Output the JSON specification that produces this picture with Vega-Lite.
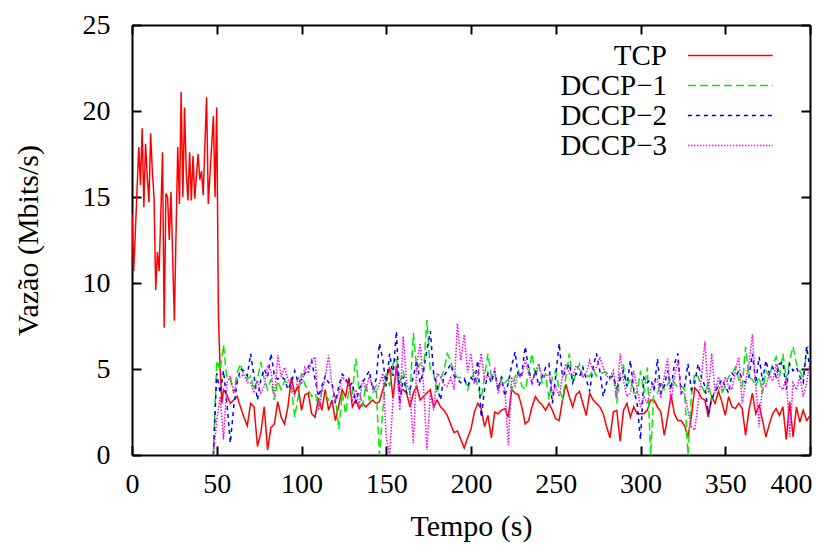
{
"$schema": "https://vega.github.io/schema/vega-lite/v6.json",
"width": 678, "height": 430,
"autosize": {"type": "none"},
"padding": {"left": 132, "top": 25, "right": 29, "bottom": 91},
"background": "white",
"config": {
 "view": {"stroke": null},
 "font": "Liberation Serif",
 "axis": {"labelFont": "Liberation Serif", "titleFont": "Liberation Serif", "labelFontSize": 28, "titleFontSize": 30, "titleFontWeight": "normal", "labelColor": "black", "titleColor": "black", "domainColor": "black", "domainWidth": 2, "tickColor": "black", "tickWidth": 2, "tickSize": -9, "grid": false, "labelFlush": false, "labelOverlap": false},
 "legend": {"title": null, "symbolType": "M-1,0H7", "symbolSize": 450, "symbolStrokeWidth": 1.5, "labelFont": "Liberation Serif", "labelFontSize": 29, "labelColor": "black", "labelAlign": "right", "labelOffset": -46, "rowPadding": 0, "padding": 0}
},
"data": {"values": [
{"s":"TCP","t":0,"v":14.0},{"s":"TCP","t":1,"v":10.7},{"s":"TCP","t":2,"v":13.0},{"s":"TCP","t":3,"v":15.5},{"s":"TCP","t":4,"v":17.9},{"s":"TCP","t":5,"v":15.7},{"s":"TCP","t":6,"v":19.0},{"s":"TCP","t":7,"v":14.4},{"s":"TCP","t":8,"v":18.1},{"s":"TCP","t":9,"v":16.2},{"s":"TCP","t":10,"v":14.7},{"s":"TCP","t":11,"v":18.7},{"s":"TCP","t":12,"v":16.5},{"s":"TCP","t":13,"v":15.0},{"s":"TCP","t":14,"v":9.6},{"s":"TCP","t":15,"v":11.8},{"s":"TCP","t":16,"v":10.7},{"s":"TCP","t":17,"v":14.0},{"s":"TCP","t":18,"v":17.6},{"s":"TCP","t":19,"v":7.4},{"s":"TCP","t":20,"v":15.2},{"s":"TCP","t":21,"v":15.0},{"s":"TCP","t":22,"v":12.5},{"s":"TCP","t":23,"v":15.3},{"s":"TCP","t":24,"v":11.5},{"s":"TCP","t":25,"v":7.8},{"s":"TCP","t":26,"v":13.0},{"s":"TCP","t":27,"v":17.9},{"s":"TCP","t":28,"v":14.6},{"s":"TCP","t":29,"v":21.1},{"s":"TCP","t":30,"v":15.0},{"s":"TCP","t":31,"v":20.2},{"s":"TCP","t":32,"v":16.5},{"s":"TCP","t":33,"v":14.8},{"s":"TCP","t":34,"v":17.6},{"s":"TCP","t":35,"v":14.8},{"s":"TCP","t":36,"v":17.4},{"s":"TCP","t":37,"v":14.9},{"s":"TCP","t":38,"v":16.2},{"s":"TCP","t":39,"v":17.5},{"s":"TCP","t":40,"v":16.0},{"s":"TCP","t":41,"v":16.5},{"s":"TCP","t":42,"v":15.1},{"s":"TCP","t":43,"v":18.0},{"s":"TCP","t":44,"v":20.8},{"s":"TCP","t":45,"v":14.6},{"s":"TCP","t":46,"v":16.3},{"s":"TCP","t":47,"v":18.0},{"s":"TCP","t":48,"v":19.7},{"s":"TCP","t":49,"v":15.0},{"s":"TCP","t":50,"v":20.2},{"s":"TCP","t":51,"v":8.0},{"s":"TCP","t":52,"v":5.0},{"s":"TCP","t":53,"v":3.0},
{"s":"TCP","t":54,"v":3.8},{"s":"TCP","t":56,"v":3.5},{"s":"TCP","t":58,"v":3.0},{"s":"TCP","t":60,"v":3.2},{"s":"TCP","t":62,"v":3.4},{"s":"TCP","t":64,"v":2.8},{"s":"TCP","t":66,"v":2.2},{"s":"TCP","t":68,"v":1.7},{"s":"TCP","t":70,"v":3.0},{"s":"TCP","t":72,"v":2.8},{"s":"TCP","t":74,"v":0.5},{"s":"TCP","t":76,"v":1.3},{"s":"TCP","t":78,"v":2.8},{"s":"TCP","t":80,"v":0.3},{"s":"TCP","t":82,"v":1.6},{"s":"TCP","t":84,"v":1.8},{"s":"TCP","t":86,"v":3.1},{"s":"TCP","t":88,"v":2.2},{"s":"TCP","t":90,"v":1.8},{"s":"TCP","t":92,"v":2.8},{"s":"TCP","t":94,"v":4.5},{"s":"TCP","t":96,"v":3.6},{"s":"TCP","t":98,"v":4.0},{"s":"TCP","t":100,"v":2.6},{"s":"TCP","t":102,"v":3.5},{"s":"TCP","t":104,"v":3.6},{"s":"TCP","t":106,"v":2.4},{"s":"TCP","t":108,"v":2.2},{"s":"TCP","t":110,"v":3.3},{"s":"TCP","t":112,"v":2.6},{"s":"TCP","t":114,"v":3.8},{"s":"TCP","t":116,"v":2.6},{"s":"TCP","t":118,"v":3.2},{"s":"TCP","t":120,"v":2.0},{"s":"TCP","t":122,"v":2.9},{"s":"TCP","t":124,"v":3.8},{"s":"TCP","t":126,"v":3.4},{"s":"TCP","t":128,"v":4.5},{"s":"TCP","t":130,"v":2.8},{"s":"TCP","t":132,"v":3.2},{"s":"TCP","t":134,"v":2.7},{"s":"TCP","t":136,"v":3.0},{"s":"TCP","t":138,"v":2.8},{"s":"TCP","t":140,"v":3.0},{"s":"TCP","t":142,"v":3.2},{"s":"TCP","t":144,"v":3.0},{"s":"TCP","t":146,"v":3.1},{"s":"TCP","t":148,"v":3.8},{"s":"TCP","t":150,"v":4.4},{"s":"TCP","t":152,"v":5.1},{"s":"TCP","t":154,"v":3.3},{"s":"TCP","t":156,"v":5.2},{"s":"TCP","t":158,"v":3.7},{"s":"TCP","t":160,"v":3.8},{"s":"TCP","t":162,"v":3.6},{"s":"TCP","t":164,"v":2.8},
{"s":"TCP","t":166,"v":3.6},{"s":"TCP","t":168,"v":4.0},{"s":"TCP","t":170,"v":3.2},{"s":"TCP","t":172,"v":3.4},{"s":"TCP","t":174,"v":3.6},{"s":"TCP","t":176,"v":3.8},{"s":"TCP","t":178,"v":2.8},{"s":"TCP","t":180,"v":3.2},{"s":"TCP","t":182,"v":2.8},{"s":"TCP","t":184,"v":2.6},{"s":"TCP","t":186,"v":2.3},{"s":"TCP","t":188,"v":1.8},{"s":"TCP","t":190,"v":1.3},{"s":"TCP","t":192,"v":1.4},{"s":"TCP","t":194,"v":0.9},{"s":"TCP","t":196,"v":0.4},{"s":"TCP","t":198,"v":1.0},{"s":"TCP","t":200,"v":1.5},{"s":"TCP","t":202,"v":2.5},{"s":"TCP","t":204,"v":3.0},{"s":"TCP","t":206,"v":2.7},{"s":"TCP","t":208,"v":1.65},{"s":"TCP","t":210,"v":2.3},{"s":"TCP","t":212,"v":1.0},{"s":"TCP","t":214,"v":2.5},{"s":"TCP","t":216,"v":2.4},{"s":"TCP","t":218,"v":2.6},{"s":"TCP","t":220,"v":2.7},{"s":"TCP","t":222,"v":2.2},{"s":"TCP","t":224,"v":3.8},{"s":"TCP","t":226,"v":3.6},{"s":"TCP","t":228,"v":3.5},{"s":"TCP","t":230,"v":2.8},{"s":"TCP","t":232,"v":1.8},{"s":"TCP","t":234,"v":2.0},{"s":"TCP","t":236,"v":2.8},{"s":"TCP","t":238,"v":3.4},{"s":"TCP","t":240,"v":3.1},{"s":"TCP","t":242,"v":2.9},{"s":"TCP","t":244,"v":2.6},{"s":"TCP","t":246,"v":3.0},{"s":"TCP","t":248,"v":2.6},{"s":"TCP","t":250,"v":2.1},{"s":"TCP","t":252,"v":2.0},{"s":"TCP","t":254,"v":3.2},{"s":"TCP","t":256,"v":4.1},{"s":"TCP","t":258,"v":3.4},{"s":"TCP","t":260,"v":2.8},{"s":"TCP","t":262,"v":3.5},{"s":"TCP","t":264,"v":3.7},{"s":"TCP","t":266,"v":3.0},{"s":"TCP","t":268,"v":2.3},{"s":"TCP","t":270,"v":3.6},{"s":"TCP","t":272,"v":3.2},{"s":"TCP","t":274,"v":3.0},{"s":"TCP","t":276,"v":2.8},{"s":"TCP","t":278,"v":2.4},{"s":"TCP","t":280,"v":1.65},{"s":"TCP","t":282,"v":1.0},
{"s":"TCP","t":284,"v":2.5},{"s":"TCP","t":286,"v":2.6},{"s":"TCP","t":288,"v":0.8},{"s":"TCP","t":290,"v":2.6},{"s":"TCP","t":292,"v":3.0},{"s":"TCP","t":294,"v":2.2},{"s":"TCP","t":296,"v":2.8},{"s":"TCP","t":298,"v":2.4},{"s":"TCP","t":300,"v":2.4},{"s":"TCP","t":302,"v":2.4},{"s":"TCP","t":304,"v":2.6},{"s":"TCP","t":306,"v":3.2},{"s":"TCP","t":308,"v":3.2},{"s":"TCP","t":310,"v":2.8},{"s":"TCP","t":312,"v":2.5},{"s":"TCP","t":314,"v":1.15},{"s":"TCP","t":316,"v":2.2},{"s":"TCP","t":318,"v":3.5},{"s":"TCP","t":320,"v":2.4},{"s":"TCP","t":322,"v":2.0},{"s":"TCP","t":324,"v":2.0},{"s":"TCP","t":326,"v":1.7},{"s":"TCP","t":328,"v":1.05},{"s":"TCP","t":330,"v":2.2},{"s":"TCP","t":332,"v":3.9},{"s":"TCP","t":334,"v":3.7},{"s":"TCP","t":336,"v":3.3},{"s":"TCP","t":338,"v":3.2},{"s":"TCP","t":340,"v":2.2},{"s":"TCP","t":342,"v":3.4},{"s":"TCP","t":344,"v":3.0},{"s":"TCP","t":346,"v":3.7},{"s":"TCP","t":348,"v":3.1},{"s":"TCP","t":350,"v":2.3},{"s":"TCP","t":352,"v":3.4},{"s":"TCP","t":354,"v":2.8},{"s":"TCP","t":356,"v":2.7},{"s":"TCP","t":358,"v":3.0},{"s":"TCP","t":360,"v":2.7},{"s":"TCP","t":362,"v":1.15},{"s":"TCP","t":364,"v":2.6},{"s":"TCP","t":366,"v":3.6},{"s":"TCP","t":368,"v":2.4},{"s":"TCP","t":370,"v":2.9},{"s":"TCP","t":372,"v":2.0},{"s":"TCP","t":374,"v":1.05},{"s":"TCP","t":376,"v":1.8},{"s":"TCP","t":378,"v":2.4},{"s":"TCP","t":380,"v":2.7},{"s":"TCP","t":382,"v":2.3},{"s":"TCP","t":384,"v":2.8},{"s":"TCP","t":386,"v":0.9},{"s":"TCP","t":388,"v":3.1},{"s":"TCP","t":390,"v":1.05},{"s":"TCP","t":392,"v":2.8},{"s":"TCP","t":394,"v":1.9},{"s":"TCP","t":396,"v":2.6},{"s":"TCP","t":398,"v":2.0},{"s":"TCP","t":400,"v":2.3},
{"s":"DCCP−1","t":48,"v":0},{"s":"DCCP−1","t":50,"v":5.5},{"s":"DCCP−1","t":52,"v":4.9},{"s":"DCCP−1","t":54,"v":6.4},{"s":"DCCP−1","t":56,"v":4.4},{"s":"DCCP−1","t":58,"v":4.4},{"s":"DCCP−1","t":60,"v":3.6},{"s":"DCCP−1","t":62,"v":4.75},{"s":"DCCP−1","t":64,"v":5.3},{"s":"DCCP−1","t":66,"v":4.6},{"s":"DCCP−1","t":68,"v":4.4},{"s":"DCCP−1","t":70,"v":4.6},{"s":"DCCP−1","t":72,"v":3.8},{"s":"DCCP−1","t":74,"v":4.4},{"s":"DCCP−1","t":76,"v":5.4},{"s":"DCCP−1","t":78,"v":4.4},{"s":"DCCP−1","t":80,"v":3.8},{"s":"DCCP−1","t":82,"v":4.4},{"s":"DCCP−1","t":84,"v":3.2},{"s":"DCCP−1","t":86,"v":4.3},{"s":"DCCP−1","t":88,"v":3.8},{"s":"DCCP−1","t":90,"v":4.3},{"s":"DCCP−1","t":92,"v":4.2},{"s":"DCCP−1","t":94,"v":4.0},{"s":"DCCP−1","t":96,"v":2.2},{"s":"DCCP−1","t":98,"v":3.4},{"s":"DCCP−1","t":100,"v":4.75},{"s":"DCCP−1","t":102,"v":4.1},{"s":"DCCP−1","t":104,"v":3.8},{"s":"DCCP−1","t":106,"v":3.4},{"s":"DCCP−1","t":108,"v":3.6},{"s":"DCCP−1","t":110,"v":2.8},{"s":"DCCP−1","t":112,"v":3.8},{"s":"DCCP−1","t":114,"v":3.6},{"s":"DCCP−1","t":116,"v":3.2},{"s":"DCCP−1","t":118,"v":3.4},{"s":"DCCP−1","t":120,"v":3.4},{"s":"DCCP−1","t":122,"v":1.5},{"s":"DCCP−1","t":124,"v":3.6},{"s":"DCCP−1","t":126,"v":2.4},{"s":"DCCP−1","t":128,"v":3.8},{"s":"DCCP−1","t":130,"v":3.6},{"s":"DCCP−1","t":132,"v":5.6},{"s":"DCCP−1","t":134,"v":3.8},{"s":"DCCP−1","t":136,"v":2.8},{"s":"DCCP−1","t":138,"v":4.1},{"s":"DCCP−1","t":140,"v":3.2},{"s":"DCCP−1","t":142,"v":3.6},{"s":"DCCP−1","t":144,"v":4.0},{"s":"DCCP−1","t":146,"v":0},{"s":"DCCP−1","t":148,"v":2.6},{"s":"DCCP−1","t":150,"v":4.75},{"s":"DCCP−1","t":152,"v":4.0},{"s":"DCCP−1","t":154,"v":5.3},{"s":"DCCP−1","t":156,"v":5.7},{"s":"DCCP−1","t":158,"v":4.2},{"s":"DCCP−1","t":160,"v":4.9},{"s":"DCCP−1","t":162,"v":3.8},{"s":"DCCP−1","t":164,"v":3.6},
{"s":"DCCP−1","t":166,"v":7.1},{"s":"DCCP−1","t":168,"v":5.0},{"s":"DCCP−1","t":170,"v":5.3},{"s":"DCCP−1","t":172,"v":4.9},{"s":"DCCP−1","t":174,"v":7.85},{"s":"DCCP−1","t":176,"v":4.9},{"s":"DCCP−1","t":178,"v":4.75},{"s":"DCCP−1","t":180,"v":3.6},{"s":"DCCP−1","t":182,"v":4.4},{"s":"DCCP−1","t":184,"v":4.9},{"s":"DCCP−1","t":186,"v":5.9},{"s":"DCCP−1","t":188,"v":5.5},{"s":"DCCP−1","t":190,"v":4.75},{"s":"DCCP−1","t":192,"v":4.5},{"s":"DCCP−1","t":194,"v":4.5},{"s":"DCCP−1","t":196,"v":4.55},{"s":"DCCP−1","t":198,"v":3.8},{"s":"DCCP−1","t":200,"v":4.4},{"s":"DCCP−1","t":202,"v":4.8},{"s":"DCCP−1","t":204,"v":4.0},{"s":"DCCP−1","t":206,"v":3.3},{"s":"DCCP−1","t":208,"v":4.6},{"s":"DCCP−1","t":210,"v":5.9},{"s":"DCCP−1","t":212,"v":4.55},{"s":"DCCP−1","t":214,"v":4.75},{"s":"DCCP−1","t":216,"v":3.8},{"s":"DCCP−1","t":218,"v":4.55},{"s":"DCCP−1","t":220,"v":4.2},{"s":"DCCP−1","t":222,"v":4.4},{"s":"DCCP−1","t":224,"v":3.8},{"s":"DCCP−1","t":226,"v":4.55},{"s":"DCCP−1","t":228,"v":4.9},{"s":"DCCP−1","t":230,"v":4.0},{"s":"DCCP−1","t":232,"v":3.8},{"s":"DCCP−1","t":234,"v":4.75},{"s":"DCCP−1","t":236,"v":5.9},{"s":"DCCP−1","t":238,"v":4.5},{"s":"DCCP−1","t":240,"v":5.3},{"s":"DCCP−1","t":242,"v":4.2},{"s":"DCCP−1","t":244,"v":4.75},{"s":"DCCP−1","t":246,"v":3.2},{"s":"DCCP−1","t":248,"v":4.55},{"s":"DCCP−1","t":250,"v":4.9},{"s":"DCCP−1","t":252,"v":3.8},{"s":"DCCP−1","t":254,"v":3.3},{"s":"DCCP−1","t":256,"v":4.55},{"s":"DCCP−1","t":258,"v":5.9},{"s":"DCCP−1","t":260,"v":4.2},{"s":"DCCP−1","t":262,"v":4.75},{"s":"DCCP−1","t":264,"v":5.3},{"s":"DCCP−1","t":266,"v":4.5},{"s":"DCCP−1","t":268,"v":4.6},{"s":"DCCP−1","t":270,"v":4.6},{"s":"DCCP−1","t":272,"v":5.0},{"s":"DCCP−1","t":274,"v":4.6},{"s":"DCCP−1","t":276,"v":4.7},{"s":"DCCP−1","t":278,"v":4.8},{"s":"DCCP−1","t":280,"v":4.8},{"s":"DCCP−1","t":282,"v":4.4},
{"s":"DCCP−1","t":284,"v":4.7},{"s":"DCCP−1","t":286,"v":3.0},{"s":"DCCP−1","t":288,"v":4.8},{"s":"DCCP−1","t":290,"v":5.2},{"s":"DCCP−1","t":292,"v":4.0},{"s":"DCCP−1","t":294,"v":4.5},{"s":"DCCP−1","t":296,"v":3.6},{"s":"DCCP−1","t":298,"v":3.6},{"s":"DCCP−1","t":300,"v":4.9},{"s":"DCCP−1","t":302,"v":3.6},{"s":"DCCP−1","t":304,"v":5.1},{"s":"DCCP−1","t":306,"v":0},{"s":"DCCP−1","t":308,"v":4.0},{"s":"DCCP−1","t":310,"v":3.6},{"s":"DCCP−1","t":312,"v":4.2},{"s":"DCCP−1","t":314,"v":3.8},{"s":"DCCP−1","t":316,"v":4.1},{"s":"DCCP−1","t":318,"v":4.5},{"s":"DCCP−1","t":320,"v":4.2},{"s":"DCCP−1","t":322,"v":3.9},{"s":"DCCP−1","t":324,"v":4.0},{"s":"DCCP−1","t":326,"v":3.8},{"s":"DCCP−1","t":328,"v":0},{"s":"DCCP−1","t":330,"v":3.4},{"s":"DCCP−1","t":332,"v":4.75},{"s":"DCCP−1","t":334,"v":4.55},{"s":"DCCP−1","t":336,"v":4.0},{"s":"DCCP−1","t":338,"v":3.6},{"s":"DCCP−1","t":340,"v":4.2},{"s":"DCCP−1","t":342,"v":3.2},{"s":"DCCP−1","t":344,"v":3.8},{"s":"DCCP−1","t":346,"v":4.0},{"s":"DCCP−1","t":348,"v":3.6},{"s":"DCCP−1","t":350,"v":4.0},{"s":"DCCP−1","t":352,"v":4.55},{"s":"DCCP−1","t":354,"v":4.75},{"s":"DCCP−1","t":356,"v":5.1},{"s":"DCCP−1","t":358,"v":4.4},{"s":"DCCP−1","t":360,"v":4.0},{"s":"DCCP−1","t":362,"v":6.3},{"s":"DCCP−1","t":364,"v":4.55},{"s":"DCCP−1","t":366,"v":4.4},{"s":"DCCP−1","t":368,"v":4.0},{"s":"DCCP−1","t":370,"v":4.55},{"s":"DCCP−1","t":372,"v":3.6},{"s":"DCCP−1","t":374,"v":4.9},{"s":"DCCP−1","t":376,"v":4.55},{"s":"DCCP−1","t":378,"v":5.3},{"s":"DCCP−1","t":380,"v":5.7},{"s":"DCCP−1","t":382,"v":4.55},{"s":"DCCP−1","t":384,"v":5.9},{"s":"DCCP−1","t":386,"v":4.4},{"s":"DCCP−1","t":388,"v":5.5},{"s":"DCCP−1","t":390,"v":6.3},{"s":"DCCP−1","t":392,"v":5.3},{"s":"DCCP−1","t":394,"v":4.9},{"s":"DCCP−1","t":396,"v":4.4},{"s":"DCCP−1","t":398,"v":6.1},{"s":"DCCP−1","t":400,"v":6.6},
{"s":"DCCP−2","t":48,"v":0},{"s":"DCCP−2","t":50,"v":4.75},{"s":"DCCP−2","t":52,"v":3.6},{"s":"DCCP−2","t":54,"v":4.9},{"s":"DCCP−2","t":56,"v":3.0},{"s":"DCCP−2","t":58,"v":0.7},{"s":"DCCP−2","t":60,"v":2.8},{"s":"DCCP−2","t":62,"v":4.2},{"s":"DCCP−2","t":64,"v":5.0},{"s":"DCCP−2","t":66,"v":4.9},{"s":"DCCP−2","t":68,"v":4.6},{"s":"DCCP−2","t":70,"v":5.9},{"s":"DCCP−2","t":72,"v":4.6},{"s":"DCCP−2","t":74,"v":3.2},{"s":"DCCP−2","t":76,"v":4.4},{"s":"DCCP−2","t":78,"v":5.0},{"s":"DCCP−2","t":80,"v":4.55},{"s":"DCCP−2","t":82,"v":5.9},{"s":"DCCP−2","t":84,"v":4.6},{"s":"DCCP−2","t":86,"v":4.4},{"s":"DCCP−2","t":88,"v":4.55},{"s":"DCCP−2","t":90,"v":4.4},{"s":"DCCP−2","t":92,"v":3.8},{"s":"DCCP−2","t":94,"v":4.2},{"s":"DCCP−2","t":96,"v":4.9},{"s":"DCCP−2","t":98,"v":4.2},{"s":"DCCP−2","t":100,"v":4.4},{"s":"DCCP−2","t":102,"v":4.75},{"s":"DCCP−2","t":104,"v":5.1},{"s":"DCCP−2","t":106,"v":5.5},{"s":"DCCP−2","t":108,"v":4.4},{"s":"DCCP−2","t":110,"v":3.4},{"s":"DCCP−2","t":112,"v":4.0},{"s":"DCCP−2","t":114,"v":4.6},{"s":"DCCP−2","t":116,"v":4.2},{"s":"DCCP−2","t":118,"v":4.2},{"s":"DCCP−2","t":120,"v":3.0},{"s":"DCCP−2","t":122,"v":4.0},{"s":"DCCP−2","t":124,"v":4.7},{"s":"DCCP−2","t":126,"v":4.5},{"s":"DCCP−2","t":128,"v":4.0},{"s":"DCCP−2","t":130,"v":4.2},{"s":"DCCP−2","t":132,"v":3.0},{"s":"DCCP−2","t":134,"v":3.8},{"s":"DCCP−2","t":136,"v":4.2},{"s":"DCCP−2","t":138,"v":4.55},{"s":"DCCP−2","t":140,"v":4.9},{"s":"DCCP−2","t":142,"v":3.8},{"s":"DCCP−2","t":144,"v":4.4},{"s":"DCCP−2","t":146,"v":6.5},{"s":"DCCP−2","t":148,"v":5.5},{"s":"DCCP−2","t":150,"v":4.0},{"s":"DCCP−2","t":152,"v":5.9},{"s":"DCCP−2","t":154,"v":4.6},{"s":"DCCP−2","t":156,"v":7.2},{"s":"DCCP−2","t":158,"v":3.0},{"s":"DCCP−2","t":160,"v":4.55},{"s":"DCCP−2","t":162,"v":3.6},{"s":"DCCP−2","t":164,"v":3.8},
{"s":"DCCP−2","t":166,"v":4.55},{"s":"DCCP−2","t":168,"v":5.5},{"s":"DCCP−2","t":170,"v":4.2},{"s":"DCCP−2","t":172,"v":4.9},{"s":"DCCP−2","t":174,"v":6.1},{"s":"DCCP−2","t":176,"v":7.2},{"s":"DCCP−2","t":178,"v":4.7},{"s":"DCCP−2","t":180,"v":4.0},{"s":"DCCP−2","t":182,"v":3.2},{"s":"DCCP−2","t":184,"v":4.6},{"s":"DCCP−2","t":186,"v":4.9},{"s":"DCCP−2","t":188,"v":5.3},{"s":"DCCP−2","t":190,"v":4.6},{"s":"DCCP−2","t":192,"v":4.4},{"s":"DCCP−2","t":194,"v":4.2},{"s":"DCCP−2","t":196,"v":4.4},{"s":"DCCP−2","t":198,"v":4.0},{"s":"DCCP−2","t":200,"v":4.5},{"s":"DCCP−2","t":202,"v":4.2},{"s":"DCCP−2","t":204,"v":5.5},{"s":"DCCP−2","t":206,"v":2.2},{"s":"DCCP−2","t":208,"v":3.8},{"s":"DCCP−2","t":210,"v":4.75},{"s":"DCCP−2","t":212,"v":4.2},{"s":"DCCP−2","t":214,"v":4.9},{"s":"DCCP−2","t":216,"v":3.8},{"s":"DCCP−2","t":218,"v":4.55},{"s":"DCCP−2","t":220,"v":3.4},{"s":"DCCP−2","t":222,"v":4.2},{"s":"DCCP−2","t":224,"v":5.2},{"s":"DCCP−2","t":226,"v":6.0},{"s":"DCCP−2","t":228,"v":4.5},{"s":"DCCP−2","t":230,"v":4.75},{"s":"DCCP−2","t":232,"v":6.3},{"s":"DCCP−2","t":234,"v":5.0},{"s":"DCCP−2","t":236,"v":4.2},{"s":"DCCP−2","t":238,"v":4.9},{"s":"DCCP−2","t":240,"v":4.0},{"s":"DCCP−2","t":242,"v":4.55},{"s":"DCCP−2","t":244,"v":5.1},{"s":"DCCP−2","t":246,"v":5.3},{"s":"DCCP−2","t":248,"v":3.0},{"s":"DCCP−2","t":250,"v":4.6},{"s":"DCCP−2","t":252,"v":6.5},{"s":"DCCP−2","t":254,"v":4.55},{"s":"DCCP−2","t":256,"v":4.9},{"s":"DCCP−2","t":258,"v":5.3},{"s":"DCCP−2","t":260,"v":4.2},{"s":"DCCP−2","t":262,"v":4.75},{"s":"DCCP−2","t":264,"v":4.55},{"s":"DCCP−2","t":266,"v":5.1},{"s":"DCCP−2","t":268,"v":4.4},{"s":"DCCP−2","t":270,"v":3.7},{"s":"DCCP−2","t":272,"v":5.1},{"s":"DCCP−2","t":274,"v":5.9},{"s":"DCCP−2","t":276,"v":4.9},{"s":"DCCP−2","t":278,"v":3.4},{"s":"DCCP−2","t":280,"v":4.2},{"s":"DCCP−2","t":282,"v":4.55},
{"s":"DCCP−2","t":284,"v":4.55},{"s":"DCCP−2","t":286,"v":3.9},{"s":"DCCP−2","t":288,"v":4.4},{"s":"DCCP−2","t":290,"v":4.9},{"s":"DCCP−2","t":292,"v":4.0},{"s":"DCCP−2","t":294,"v":5.5},{"s":"DCCP−2","t":296,"v":3.8},{"s":"DCCP−2","t":298,"v":3.0},{"s":"DCCP−2","t":300,"v":0.9},{"s":"DCCP−2","t":302,"v":4.5},{"s":"DCCP−2","t":304,"v":4.2},{"s":"DCCP−2","t":306,"v":4.4},{"s":"DCCP−2","t":308,"v":3.8},{"s":"DCCP−2","t":310,"v":5.6},{"s":"DCCP−2","t":312,"v":3.6},{"s":"DCCP−2","t":314,"v":4.0},{"s":"DCCP−2","t":316,"v":4.9},{"s":"DCCP−2","t":318,"v":3.8},{"s":"DCCP−2","t":320,"v":5.3},{"s":"DCCP−2","t":322,"v":5.9},{"s":"DCCP−2","t":324,"v":3.6},{"s":"DCCP−2","t":326,"v":4.0},{"s":"DCCP−2","t":328,"v":5.3},{"s":"DCCP−2","t":330,"v":3.8},{"s":"DCCP−2","t":332,"v":4.2},{"s":"DCCP−2","t":334,"v":5.3},{"s":"DCCP−2","t":336,"v":4.5},{"s":"DCCP−2","t":338,"v":4.0},{"s":"DCCP−2","t":340,"v":2.4},{"s":"DCCP−2","t":342,"v":3.2},{"s":"DCCP−2","t":344,"v":3.7},{"s":"DCCP−2","t":346,"v":4.0},{"s":"DCCP−2","t":348,"v":4.4},{"s":"DCCP−2","t":350,"v":4.0},{"s":"DCCP−2","t":352,"v":3.6},{"s":"DCCP−2","t":354,"v":4.75},{"s":"DCCP−2","t":356,"v":4.55},{"s":"DCCP−2","t":358,"v":4.9},{"s":"DCCP−2","t":360,"v":4.4},{"s":"DCCP−2","t":362,"v":4.2},{"s":"DCCP−2","t":364,"v":4.55},{"s":"DCCP−2","t":366,"v":5.9},{"s":"DCCP−2","t":368,"v":4.2},{"s":"DCCP−2","t":370,"v":5.7},{"s":"DCCP−2","t":372,"v":4.3},{"s":"DCCP−2","t":374,"v":5.5},{"s":"DCCP−2","t":376,"v":4.75},{"s":"DCCP−2","t":378,"v":5.1},{"s":"DCCP−2","t":380,"v":4.55},{"s":"DCCP−2","t":382,"v":5.3},{"s":"DCCP−2","t":384,"v":5.4},{"s":"DCCP−2","t":386,"v":3.8},{"s":"DCCP−2","t":388,"v":5.3},{"s":"DCCP−2","t":390,"v":4.9},{"s":"DCCP−2","t":392,"v":5.1},{"s":"DCCP−2","t":394,"v":4.55},{"s":"DCCP−2","t":396,"v":4.2},{"s":"DCCP−2","t":398,"v":6.3},{"s":"DCCP−2","t":400,"v":5.0},
{"s":"DCCP−3","t":48,"v":0},{"s":"DCCP−3","t":50,"v":2.0},{"s":"DCCP−3","t":52,"v":3.4},{"s":"DCCP−3","t":54,"v":0.9},{"s":"DCCP−3","t":56,"v":4.2},{"s":"DCCP−3","t":58,"v":4.6},{"s":"DCCP−3","t":60,"v":3.6},{"s":"DCCP−3","t":62,"v":4.4},{"s":"DCCP−3","t":64,"v":4.55},{"s":"DCCP−3","t":66,"v":4.7},{"s":"DCCP−3","t":68,"v":4.2},{"s":"DCCP−3","t":70,"v":4.2},{"s":"DCCP−3","t":72,"v":3.6},{"s":"DCCP−3","t":74,"v":4.3},{"s":"DCCP−3","t":76,"v":3.6},{"s":"DCCP−3","t":78,"v":4.0},{"s":"DCCP−3","t":80,"v":5.2},{"s":"DCCP−3","t":82,"v":4.9},{"s":"DCCP−3","t":84,"v":3.4},{"s":"DCCP−3","t":86,"v":5.8},{"s":"DCCP−3","t":88,"v":4.55},{"s":"DCCP−3","t":90,"v":5.1},{"s":"DCCP−3","t":92,"v":4.4},{"s":"DCCP−3","t":94,"v":4.0},{"s":"DCCP−3","t":96,"v":3.4},{"s":"DCCP−3","t":98,"v":4.55},{"s":"DCCP−3","t":100,"v":4.1},{"s":"DCCP−3","t":102,"v":5.1},{"s":"DCCP−3","t":104,"v":4.75},{"s":"DCCP−3","t":106,"v":5.5},{"s":"DCCP−3","t":108,"v":5.7},{"s":"DCCP−3","t":110,"v":2.6},{"s":"DCCP−3","t":112,"v":3.6},{"s":"DCCP−3","t":114,"v":4.55},{"s":"DCCP−3","t":116,"v":5.8},{"s":"DCCP−3","t":118,"v":4.0},{"s":"DCCP−3","t":120,"v":3.2},{"s":"DCCP−3","t":122,"v":3.6},{"s":"DCCP−3","t":124,"v":4.55},{"s":"DCCP−3","t":126,"v":4.3},{"s":"DCCP−3","t":128,"v":4.0},{"s":"DCCP−3","t":130,"v":3.2},{"s":"DCCP−3","t":132,"v":3.8},{"s":"DCCP−3","t":134,"v":2.8},{"s":"DCCP−3","t":136,"v":4.4},{"s":"DCCP−3","t":138,"v":3.8},{"s":"DCCP−3","t":140,"v":4.55},{"s":"DCCP−3","t":142,"v":4.0},{"s":"DCCP−3","t":144,"v":3.6},{"s":"DCCP−3","t":146,"v":4.2},{"s":"DCCP−3","t":148,"v":4.75},{"s":"DCCP−3","t":150,"v":1.0},{"s":"DCCP−3","t":152,"v":0},{"s":"DCCP−3","t":154,"v":3.2},{"s":"DCCP−3","t":156,"v":5.1},{"s":"DCCP−3","t":158,"v":2.6},{"s":"DCCP−3","t":160,"v":6.9},{"s":"DCCP−3","t":162,"v":4.2},{"s":"DCCP−3","t":164,"v":3.6},
{"s":"DCCP−3","t":166,"v":0.7},{"s":"DCCP−3","t":168,"v":5.3},{"s":"DCCP−3","t":170,"v":6.5},{"s":"DCCP−3","t":172,"v":4.0},{"s":"DCCP−3","t":174,"v":0.3},{"s":"DCCP−3","t":176,"v":3.6},{"s":"DCCP−3","t":178,"v":2.6},{"s":"DCCP−3","t":180,"v":4.75},{"s":"DCCP−3","t":182,"v":4.55},{"s":"DCCP−3","t":184,"v":4.1},{"s":"DCCP−3","t":186,"v":4.0},{"s":"DCCP−3","t":188,"v":4.5},{"s":"DCCP−3","t":190,"v":3.8},{"s":"DCCP−3","t":192,"v":7.65},{"s":"DCCP−3","t":194,"v":5.5},{"s":"DCCP−3","t":196,"v":7.0},{"s":"DCCP−3","t":198,"v":4.8},{"s":"DCCP−3","t":200,"v":5.9},{"s":"DCCP−3","t":202,"v":4.2},{"s":"DCCP−3","t":204,"v":4.5},{"s":"DCCP−3","t":206,"v":5.9},{"s":"DCCP−3","t":208,"v":4.4},{"s":"DCCP−3","t":210,"v":4.6},{"s":"DCCP−3","t":212,"v":4.5},{"s":"DCCP−3","t":214,"v":5.0},{"s":"DCCP−3","t":216,"v":3.6},{"s":"DCCP−3","t":218,"v":4.4},{"s":"DCCP−3","t":220,"v":3.8},{"s":"DCCP−3","t":222,"v":0.6},{"s":"DCCP−3","t":224,"v":4.55},{"s":"DCCP−3","t":226,"v":4.0},{"s":"DCCP−3","t":228,"v":4.8},{"s":"DCCP−3","t":230,"v":4.55},{"s":"DCCP−3","t":232,"v":5.5},{"s":"DCCP−3","t":234,"v":4.75},{"s":"DCCP−3","t":236,"v":4.2},{"s":"DCCP−3","t":238,"v":4.9},{"s":"DCCP−3","t":240,"v":5.3},{"s":"DCCP−3","t":242,"v":4.5},{"s":"DCCP−3","t":244,"v":4.6},{"s":"DCCP−3","t":246,"v":4.7},{"s":"DCCP−3","t":248,"v":3.6},{"s":"DCCP−3","t":250,"v":4.0},{"s":"DCCP−3","t":252,"v":3.4},{"s":"DCCP−3","t":254,"v":4.6},{"s":"DCCP−3","t":256,"v":5.3},{"s":"DCCP−3","t":258,"v":4.75},{"s":"DCCP−3","t":260,"v":4.55},{"s":"DCCP−3","t":262,"v":5.2},{"s":"DCCP−3","t":264,"v":5.0},{"s":"DCCP−3","t":266,"v":4.55},{"s":"DCCP−3","t":268,"v":4.75},{"s":"DCCP−3","t":270,"v":5.5},{"s":"DCCP−3","t":272,"v":4.9},{"s":"DCCP−3","t":274,"v":5.1},{"s":"DCCP−3","t":276,"v":5.7},{"s":"DCCP−3","t":278,"v":5.1},{"s":"DCCP−3","t":280,"v":4.55},{"s":"DCCP−3","t":282,"v":4.55},
{"s":"DCCP−3","t":284,"v":4.9},{"s":"DCCP−3","t":286,"v":3.4},{"s":"DCCP−3","t":288,"v":5.9},{"s":"DCCP−3","t":290,"v":4.3},{"s":"DCCP−3","t":292,"v":3.4},{"s":"DCCP−3","t":294,"v":3.6},{"s":"DCCP−3","t":296,"v":4.9},{"s":"DCCP−3","t":298,"v":3.9},{"s":"DCCP−3","t":300,"v":2.8},{"s":"DCCP−3","t":302,"v":3.4},{"s":"DCCP−3","t":304,"v":3.0},{"s":"DCCP−3","t":306,"v":3.8},{"s":"DCCP−3","t":308,"v":4.2},{"s":"DCCP−3","t":310,"v":4.4},{"s":"DCCP−3","t":312,"v":3.3},{"s":"DCCP−3","t":314,"v":4.55},{"s":"DCCP−3","t":316,"v":5.6},{"s":"DCCP−3","t":318,"v":3.0},{"s":"DCCP−3","t":320,"v":4.55},{"s":"DCCP−3","t":322,"v":5.5},{"s":"DCCP−3","t":324,"v":3.6},{"s":"DCCP−3","t":326,"v":3.6},{"s":"DCCP−3","t":328,"v":2.6},{"s":"DCCP−3","t":330,"v":1.65},{"s":"DCCP−3","t":332,"v":1.45},{"s":"DCCP−3","t":334,"v":3.0},{"s":"DCCP−3","t":336,"v":4.55},{"s":"DCCP−3","t":338,"v":6.6},{"s":"DCCP−3","t":340,"v":3.6},{"s":"DCCP−3","t":342,"v":5.9},{"s":"DCCP−3","t":344,"v":3.6},{"s":"DCCP−3","t":346,"v":4.55},{"s":"DCCP−3","t":348,"v":3.8},{"s":"DCCP−3","t":350,"v":4.55},{"s":"DCCP−3","t":352,"v":4.0},{"s":"DCCP−3","t":354,"v":3.8},{"s":"DCCP−3","t":356,"v":4.9},{"s":"DCCP−3","t":358,"v":5.7},{"s":"DCCP−3","t":360,"v":3.0},{"s":"DCCP−3","t":362,"v":4.3},{"s":"DCCP−3","t":364,"v":5.3},{"s":"DCCP−3","t":366,"v":7.0},{"s":"DCCP−3","t":368,"v":4.0},{"s":"DCCP−3","t":370,"v":1.65},{"s":"DCCP−3","t":372,"v":4.2},{"s":"DCCP−3","t":374,"v":4.0},{"s":"DCCP−3","t":376,"v":4.75},{"s":"DCCP−3","t":378,"v":4.3},{"s":"DCCP−3","t":380,"v":5.3},{"s":"DCCP−3","t":382,"v":4.0},{"s":"DCCP−3","t":384,"v":3.8},{"s":"DCCP−3","t":386,"v":4.55},{"s":"DCCP−3","t":388,"v":1.05},{"s":"DCCP−3","t":390,"v":4.2},{"s":"DCCP−3","t":392,"v":3.8},{"s":"DCCP−3","t":394,"v":4.55},{"s":"DCCP−3","t":396,"v":3.4},{"s":"DCCP−3","t":398,"v":4.2},{"s":"DCCP−3","t":400,"v":5.4}
]},
"layer": [
 {
  "mark": {"type": "line", "strokeWidth": 1.5, "clip": true},
  "encoding": {
   "x": {"field": "t", "type": "quantitative", "scale": {"domain": [0, 400], "nice": false, "zero": false}, "axis": {"orient": "bottom", "title": "Tempo (s)", "values": [0,50,100,150,200,250,300,350,400], "labelPadding": 24, "titlePadding": 13, "labelAlign": {"condition": {"test": "datum.value == 400", "value": "right"}, "value": "center"}, "labelOffset": {"condition": {"test": "datum.value == 400", "value": 2}, "value": 0}}},
   "y": {"field": "v", "type": "quantitative", "scale": {"domain": [0, 25], "nice": false}, "axis": {"orient": "left", "title": "Vazão (Mbits/s)", "values": [0,5,10,15,20,25], "labelPadding": 31, "titlePadding": 39}},
   "color": {"field": "s", "type": "nominal", "scale": {"domain": ["TCP","DCCP−1","DCCP−2","DCCP−3"], "range": ["#ff0000","#00ee00","#0000ff","#ff00ff"]}, "legend": {"orient": "none", "legendX": 552, "legendY": 16}},
   "strokeDash": {"field": "s", "type": "nominal", "scale": {"domain": ["TCP","DCCP−1","DCCP−2","DCCP−3"], "range": [[1,0],[8,4],[4,4],[1.5,1.5]]}, "legend": {"orient": "none", "legendX": 552, "legendY": 16}}
  }
 },
 {
  "mark": {"type": "point", "opacity": 0},
  "encoding": {
   "x": {"field": "t", "type": "quantitative", "axis": {"orient": "top", "title": null, "labels": false, "values": [0,50,100,150,200,250,300,350,400]}},
   "y": {"field": "v", "type": "quantitative", "axis": {"orient": "right", "title": null, "labels": false, "values": [0,5,10,15,20,25]}}
  }
 }
],
"resolve": {"axis": {"x": "independent", "y": "independent"}}
}
